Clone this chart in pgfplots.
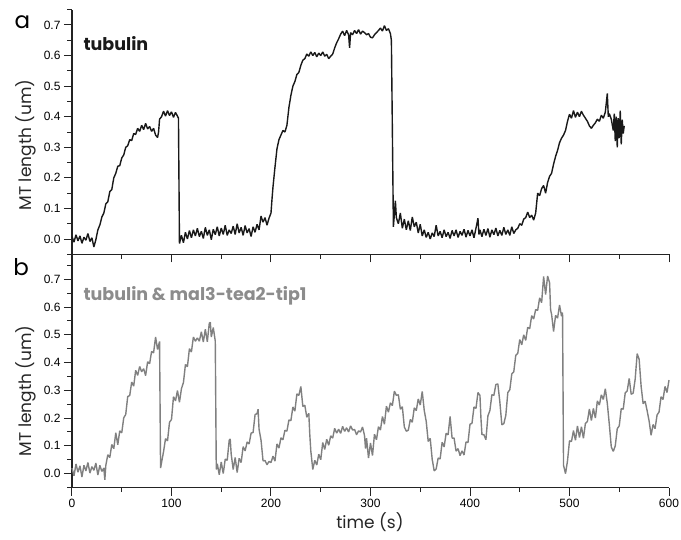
\documentclass[border=0pt]{standalone}
\usepackage{pgfplots}
\pgfplotsset{compat=1.18}
\usepackage{fontspec}
\setmainfont{Poppins}
\newfontfamily\tickfont{Liberation Sans}
\definecolor{tracegray}{RGB}{128,128,128}
\definecolor{labelgray}{RGB}{140,140,140}
\definecolor{axisgray}{RGB}{35,35,35}
\definecolor{traceblack}{RGB}{25,25,25}

\pgfplotsset{
  panel/.style={
    scale only axis, width=597pt, xmin=0, xmax=600,
    axis y line*=left, axis x line*=bottom,
    axis line style={axisgray, line width=1.1pt, -},
    tick align=outside,
    major tick length=8pt, minor tick length=4.5pt,
    every tick/.style={axisgray, line width=1pt},
    xtick={0,100,200,300,400,500,600},
    minor xtick={50,150,250,350,450,550},
    ytick={0,0.1,0.2,0.3,0.4,0.5,0.6,0.7},
    yticklabel style={/pgf/number format/.cd, fixed, fixed zerofill, precision=1},
    ticklabel style={font=\tickfont\fontsize{12}{12}\selectfont},
    /pgf/number format/assume math mode=true,
    ylabel={MT length (um)},
    label style={font=\fontsize{17}{17}\selectfont, text=black!85},
    clip=false,
  }
}

\begin{document}
\begin{tikzpicture}
\useasboundingbox (0,0) rectangle (681pt,539pt);

% ---------- top panel (a) ----------
\begin{axis}[panel,
  at={(72pt,284.7pt)}, anchor=south west, height=244.6pt,
  ymin=-0.05, ymax=0.75,
  minor ytick={-0.05,0.05,0.15,0.25,0.35,0.45,0.55,0.65,0.75},
  xticklabels={},
  ylabel style={at={(axis description cs:-0.077,0.447)}, anchor=center},
]
\addplot[traceblack, line width=1.4pt, line join=bevel] table {
0 0.008
2 -0.010
4 0.014
6 -0.006
8 0.010
10 -0.014
12 0.006
14 -0.004
16 0.018
18 -0.008
20 0.004
22 -0.026
24 -0.002
26 0.030
28 0.046
30 0.072
32 0.085
34 0.115
36 0.122
38 0.155
40 0.162
42 0.200
44 0.215
46 0.238
48 0.240
50 0.265
52 0.275
54 0.300
56 0.305
58 0.325
60 0.322
62 0.345
64 0.342
66 0.362
68 0.352
70 0.372
72 0.358
74 0.378
76 0.360
78 0.368
80 0.352
82 0.362
84 0.340
86 0.332
87 0.350
88 0.392
90 0.400
92 0.418
94 0.402
96 0.420
98 0.404
100 0.416
102 0.398
104 0.414
106 0.402
107 0.395
108 -0.015
110 0.012
112 -0.012
114 0.022
116 0.000
118 0.028
120 0.004
122 0.030
124 0.010
126 0.035
128 0.008
130 0.025
132 0.002
134 0.038
136 0.012
138 0.030
140 -0.002
142 0.032
144 0.014
146 0.040
148 0.010
150 0.036
152 0.015
154 0.045
156 0.012
158 0.030
160 0.018
162 0.042
164 0.015
166 0.050
168 0.020
170 0.038
172 0.012
174 0.044
176 0.020
178 0.034
180 0.008
182 0.040
184 0.022
186 0.048
188 0.030
190 0.075
192 0.055
194 0.070
196 0.045
198 0.068
200 0.085
201 0.130
202 0.170
204 0.235
206 0.295
208 0.325
210 0.340
212 0.355
214 0.350
216 0.372
218 0.430
220 0.470
222 0.500
224 0.515
226 0.538
228 0.545
230 0.568
232 0.585
234 0.590
236 0.605
238 0.598
240 0.612
242 0.600
244 0.610
246 0.596
248 0.608
250 0.600
252 0.612
254 0.598
256 0.604
258 0.590
260 0.598
262 0.605
264 0.625
266 0.642
268 0.655
270 0.670
272 0.680
274 0.665
276 0.682
278 0.668
279 0.625
280 0.675
282 0.668
284 0.682
286 0.672
288 0.685
290 0.670
292 0.680
294 0.675
296 0.668
298 0.672
300 0.660
302 0.658
304 0.668
306 0.675
308 0.682
310 0.690
312 0.680
314 0.698
316 0.682
318 0.688
320 0.672
321 0.650
322 0.350
323 0.040
324 0.080
325 0.125
326 0.070
328 0.050
330 0.085
332 0.035
334 0.065
336 0.030
338 0.060
340 0.028
342 0.072
344 0.040
346 0.055
348 0.020
350 0.048
352 0.010
354 0.030
356 0.005
358 0.022
360 0.000
362 0.020
364 0.008
366 0.045
368 0.010
370 0.025
372 0.004
374 0.030
376 0.008
378 0.022
380 0.002
382 0.028
384 0.010
386 0.030
388 0.005
390 0.025
392 0.012
394 0.032
396 0.006
398 0.028
400 0.010
402 0.030
404 0.004
406 0.035
408 0.068
409 0.015
410 0.030
412 0.008
414 0.032
416 0.012
418 0.034
420 0.006
422 0.030
424 0.014
426 0.036
428 0.010
430 0.028
432 0.012
434 0.038
436 0.015
438 0.030
440 0.012
442 0.040
444 0.018
446 0.030
448 0.035
450 0.050
452 0.045
454 0.065
456 0.070
458 0.088
460 0.070
462 0.078
464 0.062
466 0.085
468 0.150
470 0.142
472 0.165
474 0.175
476 0.150
478 0.185
480 0.205
482 0.215
484 0.245
486 0.270
488 0.290
490 0.315
492 0.330
494 0.340
496 0.355
498 0.385
500 0.408
502 0.395
504 0.420
506 0.398
508 0.415
510 0.400
512 0.418
514 0.405
516 0.395
518 0.385
520 0.370
522 0.362
524 0.372
526 0.380
528 0.392
530 0.385
532 0.405
534 0.395
536 0.415
538 0.476
539 0.400
540 0.410
542 0.392
544 0.355
545 0.410
546 0.320
547 0.400
548 0.300
549 0.395
550 0.330
551 0.420
552 0.310
553 0.390
554 0.345
555 0.370
};
\node[anchor=base west, font=\bfseries\fontsize{17.5}{17.5}\selectfont, text=black!90] at (axis description cs:0.0134,0.835) {tubulin};
\node[anchor=base west, font=\fontsize{23}{23}\selectfont] at (axis description cs:-0.102,0.925) {a};
\end{axis}

% ---------- bottom panel (b) ----------
\begin{axis}[panel,
  at={(72pt,51.5pt)}, anchor=south west, height=233.2pt,
  ymin=-0.05, ymax=0.79,
  minor ytick={-0.05,0.05,0.15,0.25,0.35,0.45,0.55,0.65,0.75},
  xlabel={time (s)},
  xlabel style={at={(axis description cs:0.499,0)}, anchor=center, yshift=-35pt, font=\fontsize{17}{17}\selectfont},
  ylabel style={at={(axis description cs:-0.077,0.415)}, anchor=center},
]
\addplot[tracegray, line width=1.4pt, line join=bevel] table {
0 0.020
2 -0.008
4 0.035
6 0.005
8 0.028
10 -0.012
12 0.030
14 0.010
16 0.040
18 0.002
20 0.025
22 0.012
24 0.038
26 -0.005
28 0.030
30 0.008
32 0.020
33 -0.022
34 0.030
36 0.068
38 0.058
40 0.105
42 0.090
44 0.147
46 0.104
48 0.154
50 0.147
52 0.201
54 0.213
56 0.278
58 0.281
60 0.330
62 0.315
64 0.372
66 0.354
68 0.386
70 0.367
72 0.378
74 0.353
76 0.403
78 0.396
80 0.440
82 0.435
84 0.492
86 0.447
88 0.476
89 0.020
90 0.040
92 0.079
94 0.126
96 0.118
98 0.185
100 0.195
102 0.277
104 0.262
106 0.299
108 0.257
110 0.306
112 0.328
114 0.393
116 0.385
118 0.450
120 0.438
122 0.492
124 0.477
126 0.489
128 0.477
130 0.511
132 0.474
134 0.520
136 0.475
138 0.542
139 0.545
140 0.492
142 0.526
144 0.477
145 0.015
146 0.036
148 -0.004
150 0.042
152 0.000
154 0.052
156 0.048
158 0.120
159 0.125
160 0.070
162 0.015
164 0.058
166 0.004
168 0.055
170 0.040
172 0.097
174 0.082
176 0.114
178 0.107
180 0.146
182 0.148
184 0.213
186 0.216
187 0.232
188 0.160
190 0.120
192 0.046
194 0.047
196 0.032
198 0.044
200 0.040
202 0.063
204 0.045
206 0.107
208 0.092
210 0.129
212 0.122
214 0.156
216 0.153
218 0.193
220 0.191
222 0.240
224 0.225
226 0.287
228 0.282
230 0.314
232 0.242
234 0.246
236 0.203
238 0.217
239 0.140
240 0.082
242 0.015
244 0.048
246 0.031
248 0.070
250 0.050
252 0.112
254 0.087
256 0.124
258 0.102
260 0.136
262 0.128
264 0.163
266 0.146
268 0.160
270 0.145
272 0.170
274 0.152
276 0.165
278 0.150
280 0.172
282 0.157
284 0.159
286 0.140
288 0.154
290 0.150
292 0.168
294 0.137
295 0.090
296 0.128
298 0.056
300 0.110
302 0.065
304 0.142
306 0.122
308 0.169
310 0.157
312 0.206
314 0.178
316 0.243
318 0.221
320 0.255
322 0.245
324 0.297
326 0.282
328 0.284
330 0.232
332 0.241
334 0.168
336 0.153
338 0.156
340 0.195
342 0.185
344 0.237
346 0.227
348 0.269
350 0.247
352 0.296
354 0.228
356 0.188
358 0.116
360 0.127
362 0.052
364 0.010
366 0.017
368 0.056
370 0.053
372 0.113
374 0.096
376 0.145
378 0.140
380 0.206
382 0.128
384 0.128
386 0.081
388 0.090
390 0.065
392 0.082
394 0.067
396 0.114
398 0.112
400 0.178
402 0.181
404 0.240
406 0.235
408 0.292
410 0.282
411 0.200
412 0.141
414 0.140
416 0.122
418 0.208
420 0.227
422 0.284
424 0.282
426 0.321
428 0.323
430 0.258
432 0.176
434 0.180
436 0.210
438 0.292
440 0.302
442 0.359
444 0.367
446 0.426
448 0.433
450 0.483
452 0.464
454 0.500
456 0.480
458 0.527
460 0.522
462 0.569
464 0.557
466 0.591
468 0.588
470 0.633
472 0.616
474 0.710
476 0.645
478 0.712
480 0.687
481 0.590
482 0.574
484 0.512
486 0.570
488 0.560
490 0.607
492 0.567
493 0.580
494 0.030
496 0.000
498 0.046
500 0.118
502 0.116
504 0.155
506 0.120
508 0.172
510 0.130
512 0.169
514 0.127
516 0.181
518 0.188
520 0.233
522 0.191
524 0.235
526 0.200
528 0.262
530 0.247
532 0.284
534 0.267
536 0.306
538 0.253
540 0.178
542 0.096
544 0.080
546 0.100
548 0.162
550 0.172
552 0.234
554 0.232
556 0.291
558 0.298
560 0.343
562 0.286
564 0.290
566 0.340
568 0.432
570 0.412
572 0.314
574 0.252
576 0.261
578 0.227
580 0.190
582 0.138
584 0.177
586 0.162
588 0.211
590 0.222
592 0.277
594 0.267
596 0.314
598 0.292
600 0.337
};
\node[anchor=base west, font=\bfseries\fontsize{17.5}{17.5}\selectfont, text=labelgray] at (axis description cs:0.0134,0.80) {tubulin \& mal3-tea2-tip1};
\node[anchor=base west, font=\fontsize{23}{23}\selectfont] at (axis description cs:-0.104,0.911) {b};
\end{axis}
\end{tikzpicture}
\end{document}
